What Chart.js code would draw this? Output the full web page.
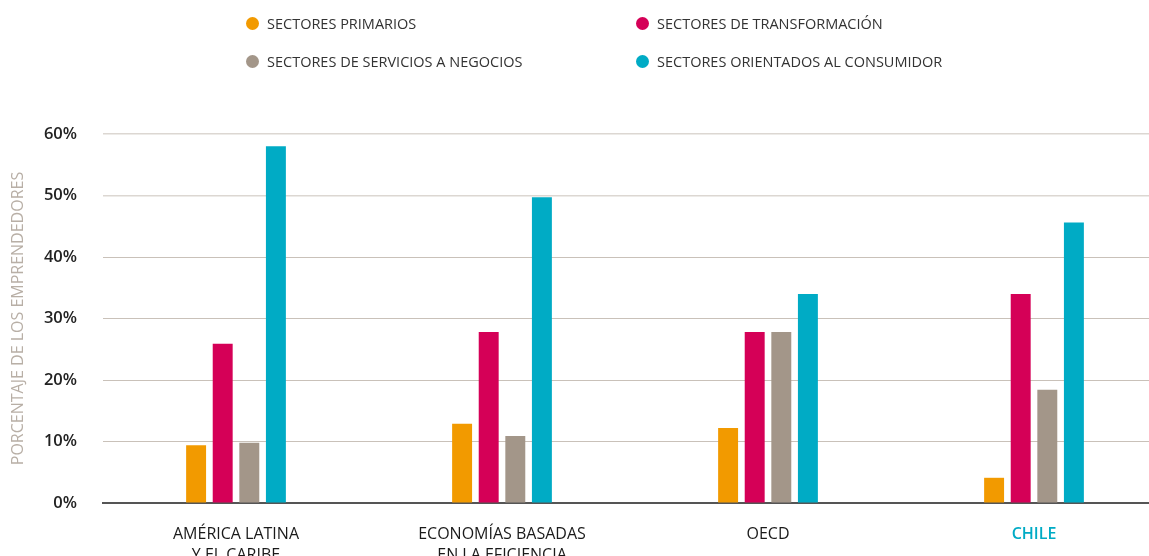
<!DOCTYPE html>
<html lang="es">
<head>
<meta charset="utf-8">
<title>Sectores de los emprendedores</title>
<script src="https://cdn.jsdelivr.net/npm/chart.js@4"></script>
<style>
    html, body {
        margin: 0;
        padding: 0;
        background: #fff;
        overflow: hidden;
        width: 1149px;
        height: 556px;
    }
    #wrap {
        position: absolute;
        left: 0;
        top: 0;
        width: 1170px;
        height: 556px;
    }
    #legend {
        position: absolute;
        left: 246px;
        top: 12px;
        display: grid;
        grid-template-columns: 390px 320px;
        row-gap: 16px;
        font-family: "Open Sans", sans-serif;
        font-size: 14.5px;
        color: #333;
    }
    .item {
        display: flex;
        align-items: center;
        height: 22px;
        white-space: nowrap;
    }
    .dot {
        width: 13px;
        height: 13px;
        border-radius: 50%;
        margin-right: 8px;
    }
</style>
</head>
<body>
<div id="wrap"><canvas id="chart"></canvas></div>
<div id="legend"></div>
<script>
const categories = [
    ['AMÉRICA LATINA', 'Y EL CARIBE'],
    ['ECONOMÍAS BASADAS', 'EN LA EFICIENCIA'],
    'OECD',
    'CHILE'
];
const seriesNames = [
    'SECTORES PRIMARIOS',
    'SECTORES DE TRANSFORMACIÓN',
    'SECTORES DE SERVICIOS A NEGOCIOS',
    'SECTORES ORIENTADOS AL CONSUMIDOR'
];
const primarios = [9.4, 12.9, 12.2, 4.1];
const transformacion = [25.9, 27.8, 27.8, 34.0];
const servicios = [9.8, 10.9, 27.8, 18.4];
const consumidor = [58.0, 49.7, 34.0, 45.6];
const colors = ['#f29a00', '#d50057', '#a39689', '#00abc5'];
const yTicks = [0, 10, 20, 30, 40, 50, 60];

// legend in 2 columns, order: primarios, transformacion / servicios, consumidor
function buildLegend() {
    const box = document.getElementById('legend');
    seriesNames.forEach((name, i) => {
        const item = document.createElement('div');
        item.className = 'item';
        const dot = document.createElement('span');
        dot.className = 'dot';
        dot.style.background = colors[i];
        const txt = document.createElement('span');
        txt.textContent = name;
        item.appendChild(dot);
        item.appendChild(txt);
        box.appendChild(item);
    });
}

function initChart() {
    const ctx = document.getElementById('chart').getContext('2d');
    const values = [primarios, transformacion, servicios, consumidor];

    new Chart(ctx, {
        type: 'bar',
        data: {
            labels: categories,
            datasets: values.map((v, i) => ({
                label: seriesNames[i],
                data: v,
                backgroundColor: colors[i],
                borderWidth: 0,
                barPercentage: 0.75,
                categoryPercentage: 0.4
            }))
        },
        options: {
            responsive: true,
            maintainAspectRatio: false,
            animation: false,
            layout: { padding: { top: 134, right: 3, bottom: 0, left: 0 } },
            plugins: {
                legend: { display: false },
                tooltip: { enabled: false }
            },
            scales: {
                x: {
                    afterFit: s => { s.height = 53; },
                    grid: { display: false },
                    border: { color: '#555', width: 2 },
                    ticks: {
                        padding: 13,
                        maxRotation: 0,
                        autoSkip: false,
                        color: c => c.index === 3 ? '#00abc5' : '#1a1a1a',
                        font: c => ({
                            family: '"Open Sans", sans-serif',
                            size: 16,
                            weight: c.index === 3 ? '600' : '400',
                            lineHeight: 1.3
                        })
                    }
                },
                y: {
                    min: 0,
                    max: 60,
                    afterFit: s => { s.width = 103; },
                    afterBuildTicks: s => { s.ticks = yTicks.map(v => ({ value: v })); },
                    border: { display: false },
                    grid: {
                        drawTicks: false,
                        color: c => c.tick.value === 0 ? 'rgba(0,0,0,0)' :
                            (c.tick.value >= 50 ? '#dcd7d2' : '#c9c1b9'),
                        lineWidth: c => c.tick.value >= 50 ? 1.5 : 1
                    },
                    ticks: {
                        padding: 26,
                        color: '#222',
                        font: { family: '"Open Sans", sans-serif', size: 16.5, weight: '600' },
                        callback: v => v + '%'
                    },
                    title: {
                        display: true,
                        text: 'PORCENTAJE DE LOS EMPRENDEDORES',
                        color: '#b8afa6',
                        padding: { top: 9 },
                        font: { family: '"Open Sans", sans-serif', size: 16, weight: '400' }
                    }
                }
            }
        }
    });
}

document.addEventListener('DOMContentLoaded', () => {
    buildLegend();
    initChart();
});
</script>
</body>
</html>
